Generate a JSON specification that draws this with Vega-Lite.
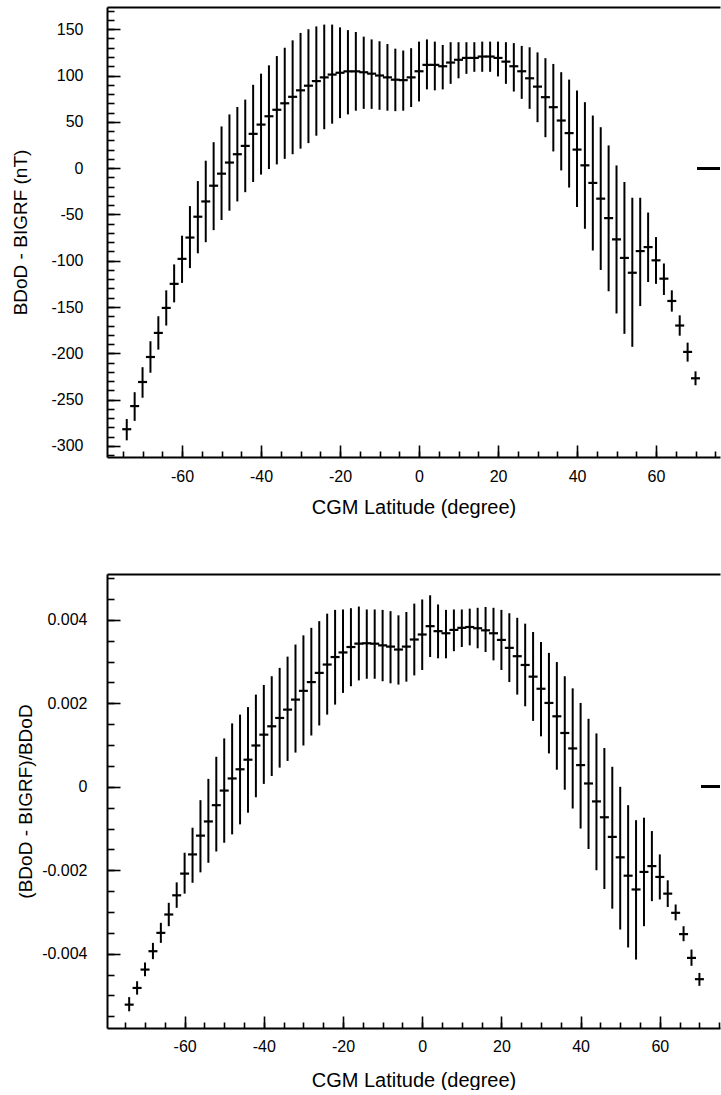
{
  "$schema": "https://vega.github.io/schema/vega-lite/v6.json",
  "background": "white",
  "padding": {"left": 11, "top": 7, "right": 0, "bottom": 0},
  "spacing": 57,
  "config": {
    "font": "Liberation Sans",
    "view": {"stroke": null},
    "axis": {
      "grid": false,
      "domainColor": "black",
      "domainWidth": 2,
      "tickColor": "black",
      "tickWidth": 1.6,
      "labelColor": "black",
      "titleColor": "black",
      "labelFont": "Liberation Sans",
      "titleFont": "Liberation Sans",
      "labelFontSize": 16,
      "titleFontWeight": "normal"
    }
  },
  "datasets": {
    "top": [
      {"lat": -74, "mean": -282, "lo": -294, "hi": -271},
      {"lat": -72, "mean": -257, "lo": -273, "hi": -242},
      {"lat": -70, "mean": -231, "lo": -248, "hi": -215},
      {"lat": -68, "mean": -204, "lo": -221, "hi": -187},
      {"lat": -66, "mean": -178, "lo": -196, "hi": -160},
      {"lat": -64, "mean": -151, "lo": -170, "hi": -132},
      {"lat": -62, "mean": -125, "lo": -145, "hi": -104},
      {"lat": -60, "mean": -98, "lo": -124, "hi": -73},
      {"lat": -58, "mean": -75, "lo": -108, "hi": -41},
      {"lat": -56, "mean": -52.5, "lo": -92, "hi": -14},
      {"lat": -54, "mean": -36, "lo": -80, "hi": 8},
      {"lat": -52, "mean": -19, "lo": -67, "hi": 28},
      {"lat": -50, "mean": -6, "lo": -56, "hi": 45},
      {"lat": -48, "mean": 6, "lo": -46, "hi": 58},
      {"lat": -46, "mean": 15, "lo": -36, "hi": 66},
      {"lat": -44, "mean": 24, "lo": -26, "hi": 74},
      {"lat": -42, "mean": 37, "lo": -15, "hi": 90},
      {"lat": -40, "mean": 47, "lo": -7, "hi": 102},
      {"lat": -38, "mean": 56, "lo": -1, "hi": 111},
      {"lat": -36, "mean": 63, "lo": 4, "hi": 121},
      {"lat": -34, "mean": 70, "lo": 10, "hi": 130},
      {"lat": -32, "mean": 77, "lo": 15, "hi": 138},
      {"lat": -30, "mean": 84, "lo": 21, "hi": 146},
      {"lat": -28, "mean": 89, "lo": 27, "hi": 150},
      {"lat": -26, "mean": 94, "lo": 35, "hi": 153},
      {"lat": -24, "mean": 98, "lo": 42, "hi": 155},
      {"lat": -22, "mean": 101, "lo": 48, "hi": 155},
      {"lat": -20, "mean": 103, "lo": 54, "hi": 152},
      {"lat": -18, "mean": 104.5, "lo": 58, "hi": 149},
      {"lat": -16, "mean": 104.5, "lo": 62, "hi": 147},
      {"lat": -14, "mean": 103.5, "lo": 64, "hi": 142},
      {"lat": -12, "mean": 102, "lo": 64, "hi": 139},
      {"lat": -10, "mean": 100, "lo": 63, "hi": 137},
      {"lat": -8, "mean": 98, "lo": 62, "hi": 134},
      {"lat": -6, "mean": 95.5, "lo": 61.5, "hi": 129},
      {"lat": -4, "mean": 95, "lo": 62, "hi": 127},
      {"lat": -2, "mean": 98, "lo": 66, "hi": 129.5},
      {"lat": 0, "mean": 104.6, "lo": 72, "hi": 136.6},
      {"lat": 2, "mean": 111.5, "lo": 85, "hi": 139},
      {"lat": 4, "mean": 111.5, "lo": 84, "hi": 136.6},
      {"lat": 6, "mean": 110, "lo": 85, "hi": 133},
      {"lat": 8, "mean": 114, "lo": 91, "hi": 136},
      {"lat": 10, "mean": 117, "lo": 97, "hi": 136},
      {"lat": 12, "mean": 119, "lo": 101.8, "hi": 136},
      {"lat": 14, "mean": 119, "lo": 104, "hi": 136},
      {"lat": 16, "mean": 120.5, "lo": 104, "hi": 136.6},
      {"lat": 18, "mean": 120.5, "lo": 104, "hi": 136.6},
      {"lat": 20, "mean": 119, "lo": 99, "hi": 136.6},
      {"lat": 22, "mean": 115, "lo": 91, "hi": 136},
      {"lat": 24, "mean": 110, "lo": 82.7, "hi": 135},
      {"lat": 26, "mean": 104.6, "lo": 74.8, "hi": 132},
      {"lat": 28, "mean": 97, "lo": 64, "hi": 130.5},
      {"lat": 30, "mean": 88, "lo": 49.6, "hi": 125},
      {"lat": 32, "mean": 76.6, "lo": 33.4, "hi": 118.7},
      {"lat": 34, "mean": 65.8, "lo": 18, "hi": 112.5},
      {"lat": 36, "mean": 51.4, "lo": -2.5, "hi": 103.6},
      {"lat": 38, "mean": 37.8, "lo": -21, "hi": 95.6},
      {"lat": 40, "mean": 20, "lo": -42, "hi": 83.8},
      {"lat": 42, "mean": 3, "lo": -65.5, "hi": 71.2},
      {"lat": 44, "mean": -16, "lo": -89, "hi": 56.8},
      {"lat": 46, "mean": -33, "lo": -110, "hi": 44.2},
      {"lat": 48, "mean": -54, "lo": -133, "hi": 24.5},
      {"lat": 50, "mean": -77, "lo": -157, "hi": 2.9},
      {"lat": 52, "mean": -97, "lo": -179, "hi": -15},
      {"lat": 54, "mean": -113, "lo": -193, "hi": -32},
      {"lat": 56, "mean": -89.6, "lo": -149, "hi": -32},
      {"lat": 58, "mean": -85.3, "lo": -123, "hi": -48},
      {"lat": 60, "mean": -99.6, "lo": -125, "hi": -74.5},
      {"lat": 62, "mean": -119.4, "lo": -137, "hi": -103},
      {"lat": 64, "mean": -143.5, "lo": -155, "hi": -132},
      {"lat": 66, "mean": -170, "lo": -181, "hi": -159},
      {"lat": 68, "mean": -198.5, "lo": -209, "hi": -188.5},
      {"lat": 70, "mean": -227, "lo": -234.5, "hi": -219.5}
    ],
    "bottom": [
      {"lat": -74, "mean": -0.00522, "lo": -0.00538, "hi": -0.00504},
      {"lat": -72, "mean": -0.00482, "lo": -0.00498, "hi": -0.00466},
      {"lat": -70, "mean": -0.00438, "lo": -0.00454, "hi": -0.00421},
      {"lat": -68, "mean": -0.00394, "lo": -0.00413, "hi": -0.00374},
      {"lat": -66, "mean": -0.0035, "lo": -0.00374, "hi": -0.00326},
      {"lat": -64, "mean": -0.00306, "lo": -0.00334, "hi": -0.00278},
      {"lat": -62, "mean": -0.0026, "lo": -0.0029, "hi": -0.00229},
      {"lat": -60, "mean": -0.00208, "lo": -0.00256, "hi": -0.00158},
      {"lat": -58, "mean": -0.00162, "lo": -0.0023, "hi": -0.00098},
      {"lat": -56, "mean": -0.00117, "lo": -0.00205, "hi": -0.00032},
      {"lat": -54, "mean": -0.00083, "lo": -0.00182, "hi": 0.00019},
      {"lat": -52, "mean": -0.00044, "lo": -0.00155, "hi": 0.00072},
      {"lat": -50, "mean": -0.00009, "lo": -0.00134, "hi": 0.00116},
      {"lat": -48, "mean": 0.0002, "lo": -0.00114, "hi": 0.00152},
      {"lat": -46, "mean": 0.00042, "lo": -0.0009, "hi": 0.00173},
      {"lat": -44, "mean": 0.00065, "lo": -0.00062, "hi": 0.00191},
      {"lat": -42, "mean": 0.00099, "lo": -0.00025, "hi": 0.00221},
      {"lat": -40, "mean": 0.00125, "lo": 0.00007, "hi": 0.00244},
      {"lat": -38, "mean": 0.00145, "lo": 0.00026, "hi": 0.00265},
      {"lat": -36, "mean": 0.00165, "lo": 0.00046, "hi": 0.00285},
      {"lat": -34, "mean": 0.00185, "lo": 0.00062, "hi": 0.00312},
      {"lat": -32, "mean": 0.00209, "lo": 0.00082, "hi": 0.00341},
      {"lat": -30, "mean": 0.0023, "lo": 0.00099, "hi": 0.00363},
      {"lat": -28, "mean": 0.00251, "lo": 0.00123, "hi": 0.00381},
      {"lat": -26, "mean": 0.00273, "lo": 0.00147, "hi": 0.00397},
      {"lat": -24, "mean": 0.00293, "lo": 0.00173, "hi": 0.00415},
      {"lat": -22, "mean": 0.00311, "lo": 0.00197, "hi": 0.00424},
      {"lat": -20, "mean": 0.00322, "lo": 0.00225, "hi": 0.00425},
      {"lat": -18, "mean": 0.00335, "lo": 0.00241, "hi": 0.00428},
      {"lat": -16, "mean": 0.00343, "lo": 0.00255, "hi": 0.00432},
      {"lat": -14, "mean": 0.00344, "lo": 0.00259, "hi": 0.00425},
      {"lat": -12, "mean": 0.00343, "lo": 0.00259, "hi": 0.00425},
      {"lat": -10, "mean": 0.00339, "lo": 0.00253, "hi": 0.00424},
      {"lat": -8, "mean": 0.00336, "lo": 0.00248, "hi": 0.00421},
      {"lat": -6, "mean": 0.00329, "lo": 0.00245, "hi": 0.00411},
      {"lat": -4, "mean": 0.00336, "lo": 0.00252, "hi": 0.00419},
      {"lat": -2, "mean": 0.00353, "lo": 0.00267, "hi": 0.00439},
      {"lat": 0, "mean": 0.00365, "lo": 0.0028, "hi": 0.00449},
      {"lat": 2, "mean": 0.00385, "lo": 0.00311, "hi": 0.00459},
      {"lat": 4, "mean": 0.00373, "lo": 0.00308, "hi": 0.00437},
      {"lat": 6, "mean": 0.00368, "lo": 0.00308, "hi": 0.00424},
      {"lat": 8, "mean": 0.00376, "lo": 0.00325, "hi": 0.00425},
      {"lat": 10, "mean": 0.00381, "lo": 0.00335, "hi": 0.00425},
      {"lat": 12, "mean": 0.00383, "lo": 0.00339, "hi": 0.00427},
      {"lat": 14, "mean": 0.0038, "lo": 0.00332, "hi": 0.00429},
      {"lat": 16, "mean": 0.00375, "lo": 0.00323, "hi": 0.00431},
      {"lat": 18, "mean": 0.00368, "lo": 0.00303, "hi": 0.00429},
      {"lat": 20, "mean": 0.00352, "lo": 0.0028, "hi": 0.00424},
      {"lat": 22, "mean": 0.00333, "lo": 0.00251, "hi": 0.00416},
      {"lat": 24, "mean": 0.00313, "lo": 0.00221, "hi": 0.00405},
      {"lat": 26, "mean": 0.00292, "lo": 0.00193, "hi": 0.00391},
      {"lat": 28, "mean": 0.00264, "lo": 0.00158, "hi": 0.00371},
      {"lat": 30, "mean": 0.00235, "lo": 0.00121, "hi": 0.00347},
      {"lat": 32, "mean": 0.00201, "lo": 0.0008, "hi": 0.00321},
      {"lat": 34, "mean": 0.00169, "lo": 0.00041, "hi": 0.00299},
      {"lat": 36, "mean": 0.00129, "lo": -0.00007, "hi": 0.00265},
      {"lat": 38, "mean": 0.00092, "lo": -0.00052, "hi": 0.00236},
      {"lat": 40, "mean": 0.00052, "lo": -0.001, "hi": 0.00201},
      {"lat": 42, "mean": 0.00008, "lo": -0.00149, "hi": 0.00163},
      {"lat": 44, "mean": -0.00035, "lo": -0.002, "hi": 0.00128},
      {"lat": 46, "mean": -0.00073, "lo": -0.00245, "hi": 0.00093},
      {"lat": 48, "mean": -0.0012, "lo": -0.00292, "hi": 0.00048},
      {"lat": 50, "mean": -0.00169, "lo": -0.00342, "hi": 0.0},
      {"lat": 52, "mean": -0.00213, "lo": -0.00385, "hi": -0.00044},
      {"lat": 54, "mean": -0.00246, "lo": -0.00414, "hi": -0.0008},
      {"lat": 56, "mean": -0.00204, "lo": -0.00334, "hi": -0.00074},
      {"lat": 58, "mean": -0.0019, "lo": -0.00274, "hi": -0.00106},
      {"lat": 60, "mean": -0.00216, "lo": -0.0027, "hi": -0.00162},
      {"lat": 62, "mean": -0.00256, "lo": -0.00288, "hi": -0.00224},
      {"lat": 64, "mean": -0.00302, "lo": -0.0032, "hi": -0.00282},
      {"lat": 66, "mean": -0.00353, "lo": -0.0037, "hi": -0.00334},
      {"lat": 68, "mean": -0.0041, "lo": -0.00429, "hi": -0.0039},
      {"lat": 70, "mean": -0.00461, "lo": -0.00477, "hi": -0.00446}
    ]
  },
  "vconcat": [
    {
      "width": 613,
      "height": 450,
      "data": {"name": "top"},
      "resolve": {"axis": {"x": "independent", "y": "independent"}},
      "layer": [
        {
          "mark": {"type": "rule", "strokeWidth": 2, "color": "black"},
          "encoding": {
            "x": {
              "field": "lat", "type": "quantitative",
              "scale": {"domain": [-79, 76.2], "nice": false, "zero": false},
              "axis": {
                "orient": "bottom", "values": [-60, -40, -20, 0, 20, 40, 60],
                "tickSize": -12, "labelPadding": 23, "labelExpr": "replace(datum.label, '−', '-')",
                "title": "CGM Latitude (degree)", "titleFontSize": 20, "titlePadding": 13
              }
            },
            "y": {
              "field": "lo", "type": "quantitative",
              "scale": {"domain": [-312, 174], "nice": false, "zero": false},
              "axis": {
                "orient": "left", "values": [-300, -250, -200, -150, -100, -50, 0, 50, 100, 150],
                "tickSize": -13, "labelPadding": 37, "labelExpr": "replace(datum.label, '−', '-')",
                "title": "BDoD - BIGRF (nT)", "titleFontSize": 19, "titlePadding": 20
              }
            },
            "y2": {"field": "hi"}
          }
        },
        {
          "mark": {"type": "tick", "orient": "horizontal", "size": 9, "thickness": 2.2, "color": "black", "opacity": 1},
          "encoding": {
            "x": {
              "field": "lat", "type": "quantitative",
              "axis": {
                "orient": "bottom",
                "values": [-75, -70, -65, -60, -55, -50, -45, -40, -35, -30, -25, -20, -15, -10, -5, 0, 5, 10, 15, 20, 25, 30, 35, 40, 45, 50, 55, 60, 65, 70, 75],
                "tickSize": -6, "labels": false, "domain": false, "title": null
              }
            },
            "y": {
              "field": "mean", "type": "quantitative",
              "axis": {
                "orient": "left",
                "values": [-310, -300, -290, -280, -270, -260, -250, -240, -230, -220, -210, -200, -190, -180, -170, -160, -150, -140, -130, -120, -110, -100, -90, -80, -70, -60, -50, -40, -30, -20, -10, 0, 10, 20, 30, 40, 50, 60, 70, 80, 90, 100, 110, 120, 130, 140, 150, 160, 170],
                "tickSize": -7, "labels": false, "domain": false, "title": null
              }
            }
          }
        },
        {
          "mark": {"type": "rule", "strokeWidth": 2, "color": "black"},
          "encoding": {
            "x": {
              "datum": 70.4, "type": "quantitative",
              "axis": {"orient": "top", "ticks": false, "labels": false, "title": null, "domain": true}
            },
            "x2": {"datum": 76.2},
            "y": {"datum": 0, "type": "quantitative", "axis": null}
          }
        }
      ]
    },
    {
      "width": 613,
      "height": 454,
      "data": {"name": "bottom"},
      "resolve": {"axis": {"x": "independent", "y": "independent"}},
      "layer": [
        {
          "mark": {"type": "rule", "strokeWidth": 2, "color": "black"},
          "encoding": {
            "x": {
              "field": "lat", "type": "quantitative",
              "scale": {"domain": [-79.6, 75.2], "nice": false, "zero": false},
              "axis": {
                "orient": "bottom", "values": [-60, -40, -20, 0, 20, 40, 60],
                "tickSize": -12, "labelPadding": 22, "labelExpr": "replace(datum.label, '−', '-')",
                "title": "CGM Latitude (degree)", "titleFontSize": 20, "titlePadding": 16
              }
            },
            "y": {
              "field": "lo", "type": "quantitative",
              "scale": {"domain": [-0.00578, 0.0051], "nice": false, "zero": false},
              "axis": {
                "orient": "left", "values": [-0.004, -0.002, 0, 0.002, 0.004], "format": "~g",
                "tickSize": -13, "labelPadding": 33, "labelExpr": "replace(datum.label, '−', '-')",
                "title": "(BDoD - BIGRF)/BDoD", "titleFontSize": 19, "titlePadding": 6
              }
            },
            "y2": {"field": "hi"}
          }
        },
        {
          "mark": {"type": "tick", "orient": "horizontal", "size": 9, "thickness": 2.2, "color": "black", "opacity": 1},
          "encoding": {
            "x": {
              "field": "lat", "type": "quantitative",
              "axis": {
                "orient": "bottom",
                "values": [-75, -70, -65, -60, -55, -50, -45, -40, -35, -30, -25, -20, -15, -10, -5, 0, 5, 10, 15, 20, 25, 30, 35, 40, 45, 50, 55, 60, 65, 70, 75],
                "tickSize": -6, "labels": false, "domain": false, "title": null
              }
            },
            "y": {
              "field": "mean", "type": "quantitative",
              "axis": {
                "orient": "left",
                "values": [-0.0055, -0.005, -0.0045, -0.004, -0.0035, -0.003, -0.0025, -0.002, -0.0015, -0.001, -0.0005, 0, 0.0005, 0.001, 0.0015, 0.002, 0.0025, 0.003, 0.0035, 0.004, 0.0045, 0.005],
                "tickSize": -7, "labels": false, "domain": false, "title": null
              }
            }
          }
        },
        {
          "mark": {"type": "rule", "strokeWidth": 2, "color": "black"},
          "encoding": {
            "x": {
              "datum": 70.6, "type": "quantitative",
              "axis": {"orient": "top", "ticks": false, "labels": false, "title": null, "domain": true}
            },
            "x2": {"datum": 75.2},
            "y": {"datum": 0, "type": "quantitative", "axis": null}
          }
        }
      ]
    }
  ]
}
